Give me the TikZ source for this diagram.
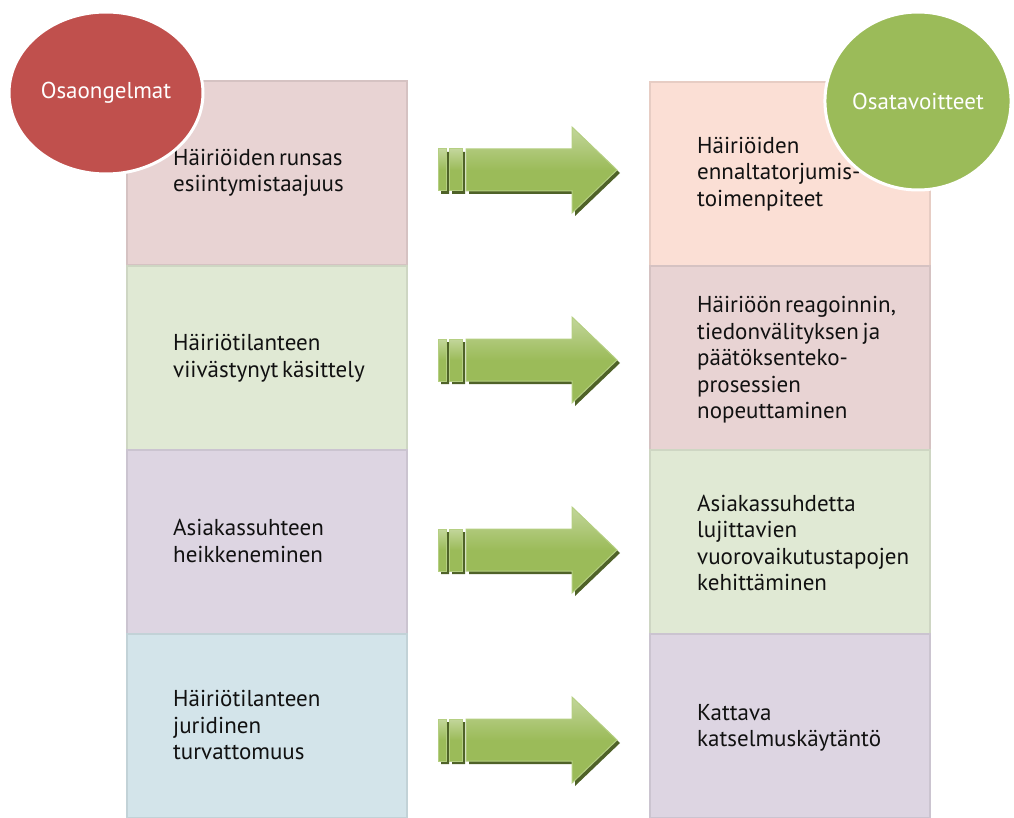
\documentclass[tikz,border=0pt]{standalone}
\usepackage{fontspec}
\setmainfont[WordSpace=0.6]{PT Sans}
\usetikzlibrary{shapes.geometric}
\definecolor{boxpink}{HTML}{E8D3D3}
\definecolor{boxgreen}{HTML}{E0E9D4}
\definecolor{boxlav}{HTML}{DDD5E2}
\definecolor{boxblue}{HTML}{D3E4EA}
\definecolor{boxpeach}{HTML}{FBDFD5}
\definecolor{circred}{HTML}{C0504D}
\definecolor{circgreen}{HTML}{9BBB59}
\definecolor{arrowmid}{HTML}{9BBB59}
\definecolor{arrowlight}{HTML}{C3D69B}
\definecolor{arrowedge}{HTML}{B5CF82}
\definecolor{arrowshade}{HTML}{4F6228}
\definecolor{txt}{HTML}{111111}
\tikzset{
  x=1pt, y=-1pt,
  panel/.style={rectangle, minimum width=280pt, minimum height=184pt,
    inner sep=0pt, draw=#1!92!black, line width=1.2pt, fill=#1},
  label/.style={anchor=west, align=left, text=txt, inner sep=0pt,
    font=\fontsize{23}{26.5}\selectfont},
  bubble/.style={ellipse, draw=white, line width=3pt, fill=#1, text=white,
    font=\fontsize{23}{26}\selectfont, inner sep=0pt},
  arrowshadow/.style={fill=arrowshade},
  arrowbody/.style={draw=arrowedge, line width=1pt,
    top color=arrowlight, bottom color=arrowmid, middle color=arrowmid},
  fatarrow/.pic={
    \fill[arrowshadow, shift={(3pt,-3pt)}]
      (-89,-21) rectangle (-81,21)
      (-78,-21) rectangle (-65,21)
      (-61,-21) -- (45,-21) -- (45,-43) -- (90,0) -- (45,43) -- (45,21) -- (-61,21) -- cycle;
    \path[arrowbody] (-89,-21) rectangle (-81,21);
    \path[arrowbody] (-78,-21) rectangle (-65,21);
    \path[arrowbody] (-61,-21) -- (45,-21) -- (45,-43) -- (90,0) -- (45,43) -- (45,21) -- (-61,21) -- cycle;
  }
}
\begin{document}
\begin{tikzpicture}
\useasboundingbox (0,0) rectangle (1014,818);

% left column: sub-problems
\node[panel=boxpink]  (p1) at (267,173) {};
\node[panel=boxgreen] (p2) at (267,358) {};
\node[panel=boxlav]   (p3) at (267,542) {};
\node[panel=boxblue]  (p4) at (267,726) {};

% right column: sub-goals
\node[panel=boxpeach] (g1) at (790,174) {};
\node[panel=boxpink]  (g2) at (790,358) {};
\node[panel=boxgreen] (g3) at (790,542) {};
\node[panel=boxlav]   (g4) at (790,726) {};

\node[label] (tp1) at (173,173) {Häiriöiden runsas\\esiintymistaajuus};
\node[label] (tp2) at (173,358) {Häiriötilanteen\\viivästynyt käsittely};
\node[label] (tp3) at (173,541) {Asiakassuhteen\\heikkeneminen};
\node[label] (tp4) at (173,725) {Häiriötilanteen\\juridinen\\turvattomuus};

\node[label] (tg1) at (697,174) {Häiriöiden\\ennaltatorjumis-\\toimenpiteet};
\node[label] (tg2) at (697,360) {Häiriöön reagoinnin,\\tiedonvälityksen ja\\päätöksenteko-\\prosessien\\nopeuttaminen};
\node[label] (tg3) at (697,543) {Asiakassuhdetta\\lujittavien\\vuorovaikutustapojen\\kehittäminen};
\node[label] (tg4) at (697,728) {Kattava\\katselmuskäytäntö};

% arrows from each problem to its goal
\pic at (527,170) {fatarrow};
\pic at (527,360) {fatarrow};
\pic at (527,550) {fatarrow};
\pic at (527,740) {fatarrow};

% column headings
\node[bubble=circred, minimum width=194pt, minimum height=162pt] (hp) at (106,93) {Osaongelmat};
\node[bubble=circgreen, minimum width=186pt, minimum height=178pt] (hg) at (918,101) {Osatavoitteet};
\end{tikzpicture}
\end{document}
